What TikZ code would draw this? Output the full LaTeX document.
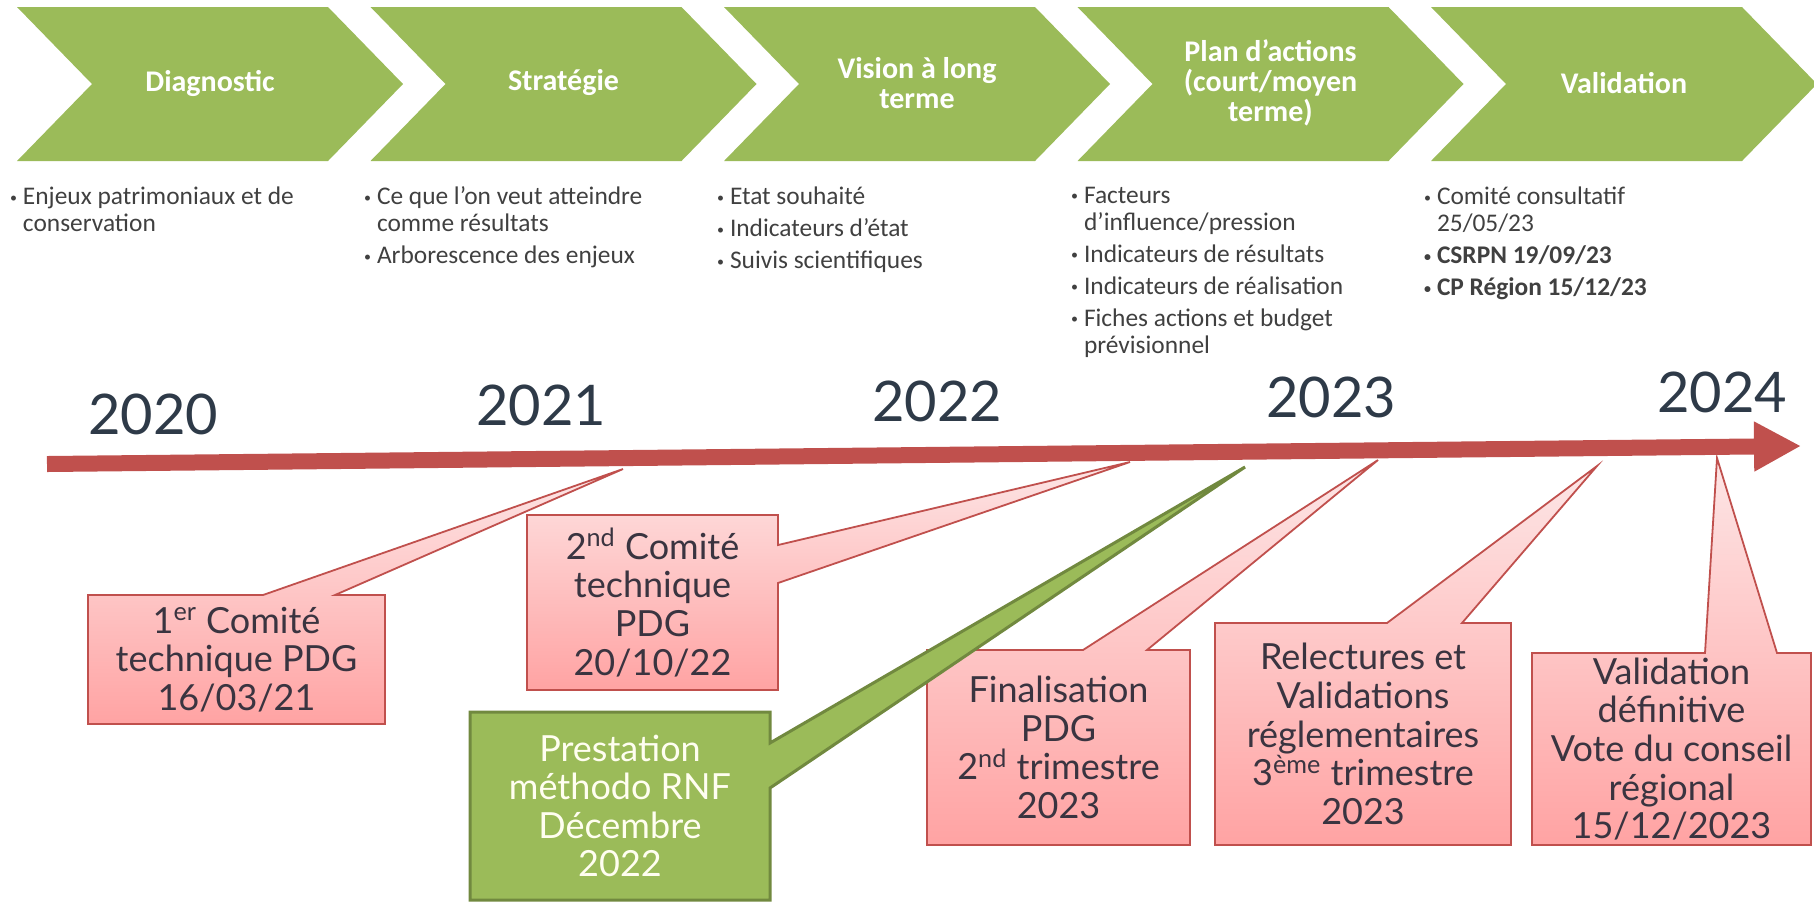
\documentclass[tikz,border=0pt]{standalone}
\usepackage{fontspec}
\setmainfont{Carlito}
\newfontfamily\boxfont{Lato}
\usepackage{xcolor}
\usetikzlibrary{positioning,calc,arrows.meta,backgrounds}
\definecolor{chevgreen}{HTML}{9BBB59}
\definecolor{darkgreen}{HTML}{71893F}
\definecolor{axisred}{HTML}{C0504D}
\definecolor{txtgray}{HTML}{404040}
\definecolor{yeargray}{HTML}{2E3A48}
\definecolor{boxink}{HTML}{3A3440}
\definecolor{pinktop}{HTML}{FDE6E6}
\definecolor{pinkbot}{HTML}{FFA3A3}
\newcommand\bl{\makebox[0pt][r]{\raisebox{0.2ex}{\scriptsize\textbullet}\hspace{3pt}}}

\begin{document}
\begin{tikzpicture}[x=0.5pt, y=-0.5pt, outer sep=0pt,
    chevtext/.style={text=white, font=\fontsize{15}{15}\selectfont\bfseries, align=center},
    bullets/.style={anchor=north west, inner sep=0pt, text=txtgray, align=left, font=\fontsize{12.7}{13.5}\selectfont},
    year/.style={text=yeargray, font=\boxfont\fontsize{28}{28}\selectfont},
    boxtext/.style={inner sep=0pt, align=center, text=boxink, font=\boxfont\fontsize{18}{19.3}\selectfont},
    callout/.style={draw=axisred, line width=0.9pt, top color=pinktop, bottom color=pinkbot},
    greencallout/.style={draw=darkgreen, line width=1.5pt, fill=chevgreen}]
    \useasboundingbox (0,0) rectangle (1814,902);

    \foreach \i/\ttl in {0/Diagnostic, 1/Stratégie, 2/{Vision à long\\terme}, 3/{Plan d’actions\\(court/moyen\\terme)}, 4/Validation} {
        \pgfmathsetmacro\xl{17+353.5*\i}
        \fill [chevgreen] (\xl,7) -- ++(311,0) -- ++(75,77) -- ++(-75,77) -- ++(-311,0) -- ++(75,-77) -- cycle;
        \node [chevtext] (step\i) at (\xl+193,83) {\ttl};
    }

    \node [bullets] (list0) at (23,187) {\bl Enjeux patrimoniaux et de\\conservation};
    \node [bullets] (list1) at (377,187) {\bl Ce que l’on veut atteindre\\comme résultats\\[2.5pt]\bl Arborescence des enjeux};
    \node [bullets] (list2) at (730,187) {\bl Etat souhaité\\[2.5pt]\bl Indicateurs d’état\\[2.5pt]\bl Suivis scientifiques};
    \node [bullets] (list3) at (1084,187) {\bl Facteurs\\d’influence/pression\\[2.5pt]\bl Indicateurs de résultats\\[2.5pt]\bl Indicateurs de réalisation\\[2.5pt]\bl Fiches actions et budget\\prévisionnel};
    \node [bullets] (list4) at (1437,187) {\bl Comité consultatif\\25/05/23\\[2.5pt]\textbf{\bl CSRPN 19/09/23}\\[2.5pt]\textbf{\bl CP Région 15/12/23}};

    \foreach \yr/\x/\y in {2020/153/414, 2021/541/405, 2022/937/401, 2023/1331/397, 2024/1722/392}
        \node [year] (y\yr) at (\x,\y) {\yr};

    \coordinate (ax0) at (47,464);
    \coordinate (ax1) at (1801,446);
    \draw [axisred, line width=8pt, -{Triangle[length=23.5pt,width=23.5pt]}] (ax0) -- (ax1);

    \coordinate (t1) at (623,469);
    \coordinate (t2) at (1130,462);
    \coordinate (tg) at (1245,467);
    \coordinate (t3) at (1378,460);
    \coordinate (t4) at (1597,466);
    \coordinate (t5) at (1717,458);

    \node [boxtext, minimum width=148.5pt, minimum height=64.5pt] (b1) at (236.5,659.5) {1\textsuperscript{er} Comité\\technique PDG\\16/03/21};
    \node [boxtext, minimum width=125.5pt, minimum height=87.5pt] (b2) at (652.5,602.5) {2\textsuperscript{nd} Comité\\technique\\PDG\\20/10/22};
    \node [boxtext, minimum width=150pt, minimum height=94pt, text=white!94!yellow] (bg) at (620,806) {Prestation\\méthodo RNF\\Décembre\\2022};
    \node [boxtext, minimum width=131.5pt, minimum height=97.5pt] (b3) at (1058.5,747.5) {Finalisation\\PDG\\2\textsuperscript{nd} trimestre\\2023};
    \node [boxtext, minimum width=148pt, minimum height=111pt] (b4) at (1363,734) {Relectures et\\Validations\\réglementaires\\3\textsuperscript{ème} trimestre\\2023};
    \node [boxtext, minimum width=139.5pt, minimum height=96pt] (b5) at (1671.5,749) {Validation\\définitive\\Vote du conseil\\régional\\15/12/2023};

    \begin{scope}[on background layer]
        \path [callout] (b1.north west) -- ($(b1.north west)+(175,0)$) -- (t1) -- ($(b1.north west)+(247,0)$) -- (b1.north east) -- (b1.south east) -- (b1.south west) -- cycle;
        \path [callout] (b2.north west) -- (b2.north east) -- ($(b2.north east)+(0,30)$) -- (t2) -- ($(b2.north east)+(0,68)$) -- (b2.south east) -- (b2.south west) -- cycle;
        \path [callout] (b3.north west) -- ($(b3.north west)+(156,0)$) -- (t3) -- ($(b3.north west)+(220,0)$) -- (b3.north east) -- (b3.south east) -- (b3.south west) -- cycle;
        \path [callout] (b4.north west) -- ($(b4.north west)+(172,0)$) -- (t4) -- ($(b4.north west)+(247,0)$) -- (b4.north east) -- (b4.south east) -- (b4.south west) -- cycle;
        \path [callout] (b5.north west) -- ($(b5.north west)+(173,0)$) -- (t5) -- ($(b5.north west)+(245,0)$) -- (b5.north east) -- (b5.south east) -- (b5.south west) -- cycle;
        \path [greencallout] (bg.north west) -- (bg.north east) -- ($(bg.north east)+(0,31)$) -- (tg) -- ($(bg.north east)+(0,76)$) -- (bg.south east) -- (bg.south west) -- cycle;
    \end{scope}
\end{tikzpicture}
\end{document}
